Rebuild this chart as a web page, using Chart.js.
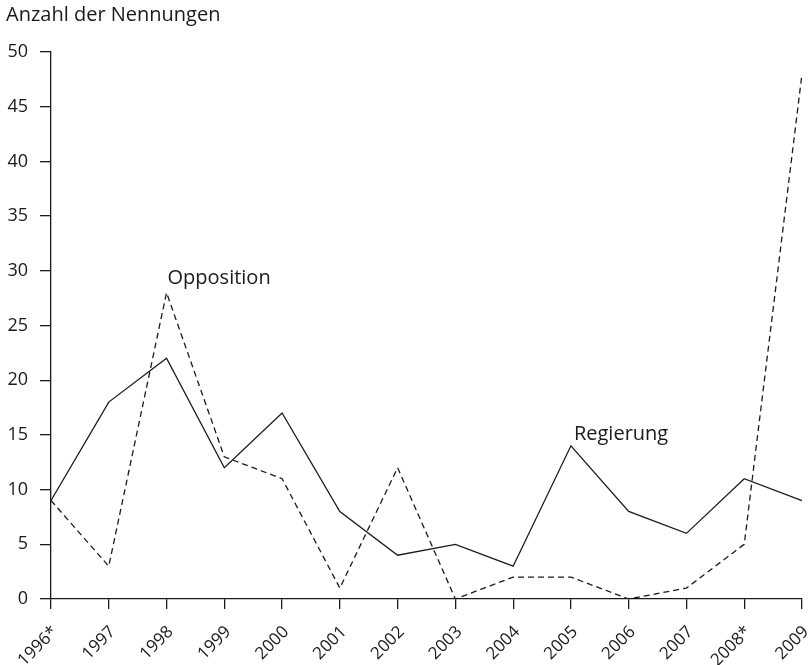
<!DOCTYPE html>
<html>
<head>
<meta charset="utf-8">
<script src="https://cdn.jsdelivr.net/npm/chart.js@4"></script>
<style>
  html, body { margin: 0; padding: 0; background: #fff; }
  #wrap { width: 811px; height: 665px; }
</style>
</head>
<body>
<div id="wrap"><canvas id="myChart" width="811" height="665"></canvas></div>
<script>
const years = ['1996*', '1997', '1998', '1999', '2000', '2001', '2002', '2003', '2004', '2005', '2006', '2007', '2008*', '2009'];
const regierung = [9, 18, 22, 12, 17, 8, 4, 5, 3, 14, 8, 6, 11, 9];
const opposition = [9, 3, 28, 13, 11, 1, 12, 0, 2, 2, 0, 1, 5, 48];
const seriesNotes = [
    { text: 'Opposition', at: '1998', y: 29.3, dx: 1 },
    { text: 'Regierung', at: '2005', y: 15.1, dx: 3 }
];

const fontFamily = '"Open Sans", "Noto Sans", sans-serif';
const ink = '#1a1a1a';

// draws the y title and the series names next to their lines
const notesPlugin = {
    id: 'notes',
    afterDraw(chart) {
        const ctx = chart.ctx;
        const x = chart.scales.x, y = chart.scales.y;
        ctx.save();
        ctx.fillStyle = ink;
        ctx.font = '20px ' + fontFamily;
        ctx.textBaseline = 'middle';
        ctx.textAlign = 'left';
        ctx.fillText('Anzahl der Nennungen', 6, 15);
        seriesNotes.forEach(n => {
            ctx.fillText(n.text, x.getPixelForValue(years.indexOf(n.at)) + n.dx, y.getPixelForValue(n.y));
        });
        ctx.restore();
    }
};

const renderChart = () => {
    const ctx = document.getElementById('myChart').getContext('2d');
    new Chart(ctx, {
        type: 'line',
        data: {
            labels: years,
            datasets: [{
                label: 'Regierung',
                data: regierung,
                borderColor: ink,
                borderWidth: 1.3,
                pointRadius: 0,
                tension: 0,
                fill: false
            }, {
                label: 'Opposition',
                data: opposition,
                borderColor: ink,
                borderWidth: 1.3,
                borderDash: [6, 4],
                pointRadius: 0,
                tension: 0,
                fill: false
            }]
        },
        options: {
            responsive: false,
            animation: false,
            layout: { padding: { top: 52, right: 9, left: 0, bottom: 0 } },
            plugins: {
                legend: { display: false },
                tooltip: { enabled: false }
            },
            scales: {
                x: {
                    offset: false,
                    border: { color: ink, width: 1.3 },
                    grid: { drawOnChartArea: false, drawTicks: true, tickLength: 10, color: ink, lineWidth: 1.3 },
                    ticks: {
                        color: ink,
                        font: { family: fontFamily, size: 17 },
                        minRotation: 45,
                        maxRotation: 45,
                        padding: 13,
                        labelOffset: 4,
                        autoSkip: false
                    },
                    afterFit: scale => {
                        scale.height = 66;
                        scale.paddingRight = 0;
                        scale.paddingLeft = 0;
                    }
                },
                y: {
                    min: 0,
                    max: 50,
                    border: { color: ink, width: 1.3 },
                    grid: { drawOnChartArea: false, drawTicks: true, tickLength: 11, color: ink, lineWidth: 1.3 },
                    ticks: {
                        stepSize: 5,
                        color: ink,
                        font: { family: fontFamily, size: 18 },
                        padding: 12
                    },
                    afterFit: scale => { scale.width = 51; }
                }
            }
        },
        plugins: [notesPlugin]
    });
};

renderChart();
</script>
</body>
</html>
